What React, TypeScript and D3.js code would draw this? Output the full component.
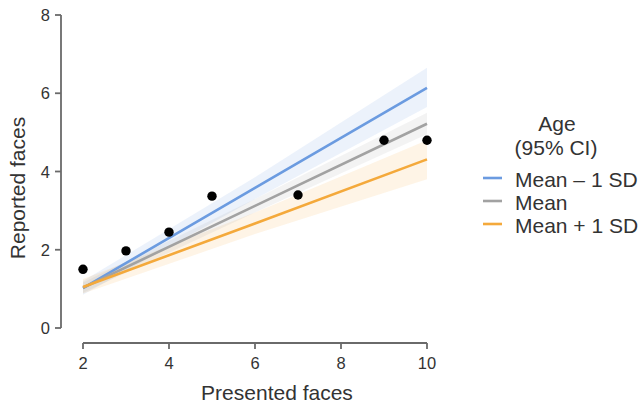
import React from "react";
import * as d3 from "d3";

// observed mean reported faces per presented set size
const presented = [2, 3, 4, 5, 7, 9, 10];
const reported = [1.5, 1.97, 2.45, 3.37, 3.4, 4.8, 4.8];

// model fit at 2, 6 and 10 presented faces, by age group
const fitX = [2, 6, 10];
const seriesNames = ["Mean \u2013 1 SD", "Mean", "Mean + 1 SD"];
const fitMean = [
  [1.02, 3.58, 6.14],
  [1.03, 3.12, 5.22],
  [1.05, 2.67, 4.31],
];
const fitLow = [
  [0.85, 3.3, 5.65],
  [0.9, 2.95, 4.95],
  [0.88, 2.4, 3.8],
];
const fitHigh = [
  [1.2, 3.85, 6.65],
  [1.16, 3.3, 5.5],
  [1.25, 2.95, 4.8],
];
const colors = ["#6b9be0", "#a2a2a2", "#f4a93b"];

const xTicks = [2, 4, 6, 8, 10];
const yTicks = [0, 2, 4, 6, 8];

const W = 641;
const H = 406;

export default function App() {
  const x = d3.scaleLinear().domain([2, 10]).range([83, 427]);
  const y = d3.scaleLinear().domain([0, 8]).range([328, 15]);

  const line = d3
    .line<number>()
    .x((_, i) => x(fitX[i]))
    .y((d) => y(d));

  const band = (s: number) =>
    d3
      .area<number>()
      .x((_, i) => x(fitX[i]))
      .y0((_, i) => y(fitLow[s][i]))
      .y1((_, i) => y(fitHigh[s][i]))(fitX);

  const axisColor = "#6a6a6a";
  const textColor = "#333";
  const font = "'Liberation Sans', Arial, Helvetica, sans-serif";

  return (
    <svg
      width={W}
      height={H}
      style={{ position: "fixed", left: 0, top: 0, background: "#fff" }}
      fontFamily={font}
    >
      {/* confidence ribbons */}
      {[0, 2, 1].map((s) => (
        <path key={"b" + s} d={band(s) || ""} fill={colors[s]} fillOpacity={0.13} />
      ))}

      {/* fitted lines */}
      {[0, 1, 2].map((s) => (
        <path
          key={"l" + s}
          d={line(fitMean[s]) || ""}
          fill="none"
          stroke={colors[s]}
          strokeWidth={2.6}
        />
      ))}

      {/* observed points */}
      {presented.map((p, i) => (
        <circle key={"p" + i} cx={x(p)} cy={y(reported[i])} r={4.7} fill="#000" />
      ))}

      {/* y axis */}
      <line x1={61} x2={61} y1={y(0)} y2={y(8)} stroke={axisColor} strokeWidth={1.8} />
      {yTicks.map((t) => (
        <g key={"yt" + t}>
          <line x1={55} x2={61} y1={y(t)} y2={y(t)} stroke={axisColor} strokeWidth={1.8} />
          <text
            x={50}
            y={y(t)}
            textAnchor="end"
            dominantBaseline="central"
            fontSize={16.5}
            fill={textColor}
          >
            {t}
          </text>
        </g>
      ))}
      <text
        transform={`translate(25, ${188}) rotate(-90)`}
        textAnchor="middle"
        fontSize={21}
        fill={textColor}
      >
        Reported faces
      </text>

      {/* x axis */}
      <line x1={x(2)} x2={x(10)} y1={343} y2={343} stroke={axisColor} strokeWidth={1.8} />
      {xTicks.map((t) => (
        <g key={"xt" + t}>
          <line x1={x(t)} x2={x(t)} y1={343} y2={349} stroke={axisColor} strokeWidth={1.8} />
          <text x={x(t)} y={369} textAnchor="middle" fontSize={16.5} fill={textColor}>
            {t}
          </text>
        </g>
      ))}
      <text x={277} y={400} textAnchor="middle" fontSize={21} fill={textColor}>
        Presented faces
      </text>

      {/* legend */}
      <text x={557} y={131} textAnchor="middle" fontSize={21} fill={textColor}>
        Age
      </text>
      <text x={556} y={155} textAnchor="middle" fontSize={21} fill={textColor}>
        (95% CI)
      </text>
      {seriesNames.map((n, i) => (
        <g key={"lg" + i} transform={`translate(0, ${178 + i * 23})`}>
          <line x1={483} x2={502} y1={0} y2={0} stroke={colors[i]} strokeWidth={2.6} />
          <text x={515} y={1} dominantBaseline="central" fontSize={21} fill={textColor}>
            {n}
          </text>
        </g>
      ))}
    </svg>
  );
}
